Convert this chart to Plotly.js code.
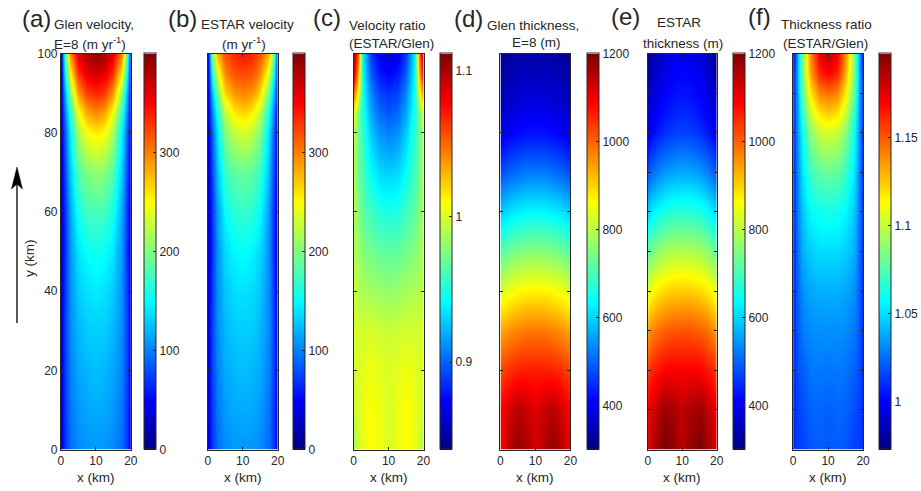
<!DOCTYPE html>
<html>
<head>
<meta charset="utf-8">
<script src="https://cdn.plot.ly/plotly-3.0.1.min.js"></script>
<style>html,body{margin:0;padding:0;background:#fff;}#chart{width:921px;height:491px;}</style>
</head>
<body>
<div id="chart"></div>
<script>
// ---------------- data ----------------
const xKm = [0, 1, 2.5, 5, 7.5, 10, 12.5, 15, 17.5, 19, 20];
const yKm = [0, 10, 20, 30, 40, 50, 60, 70, 80, 85, 90, 95, 100];

// (a) Glen velocity, E=8 (m/yr)
const glenVelocity = [
  [40, 70, 92, 104, 108, 110, 108, 104, 92, 70, 40],
  [40, 72, 96, 110, 116, 118, 116, 110, 96, 72, 40],
  [40, 74, 100, 116, 122, 125, 122, 116, 100, 74, 40],
  [40, 75, 104, 122, 130, 132, 130, 122, 104, 75, 40],
  [38, 72, 106, 130, 139, 142, 139, 130, 106, 72, 38],
  [35, 68, 108, 140, 152, 157, 152, 140, 108, 68, 35],
  [35, 70, 115, 158, 175, 180, 175, 158, 115, 70, 35],
  [35, 78, 128, 182, 200, 207, 200, 182, 128, 78, 35],
  [38, 88, 145, 215, 248, 258, 248, 215, 145, 88, 38],
  [40, 100, 165, 245, 285, 298, 285, 245, 165, 100, 40],
  [40, 120, 200, 290, 325, 335, 325, 290, 200, 120, 40],
  [40, 150, 250, 330, 360, 368, 360, 330, 250, 150, 40],
  [40, 180, 295, 360, 385, 395, 385, 360, 295, 180, 40]
];

// (b) ESTAR velocity (m/yr)
const estarVelocity = [
  [39, 70, 92, 105, 109, 110, 109, 105, 92, 70, 39],
  [40, 72, 96, 111, 117, 118, 117, 111, 96, 72, 40],
  [40, 74, 100, 117, 122, 125, 122, 117, 100, 74, 40],
  [40, 75, 104, 122, 130, 131, 130, 122, 104, 75, 40],
  [38, 71, 105, 128, 137, 139, 137, 128, 105, 71, 38],
  [35, 67, 106, 136, 147, 152, 147, 136, 106, 67, 35],
  [35, 68, 111, 151, 166, 171, 166, 151, 111, 68, 35],
  [35, 76, 123, 172, 186, 192, 186, 172, 123, 76, 35],
  [38, 86, 138, 200, 226, 234, 226, 200, 138, 86, 38],
  [40, 98, 157, 225, 257, 267, 257, 225, 157, 98, 40],
  [42, 121, 190, 265, 291, 298, 291, 265, 190, 121, 42],
  [44, 156, 236, 297, 318, 322, 318, 297, 236, 156, 44],
  [44, 191, 277, 320, 336, 342, 336, 320, 277, 191, 44]
];

// (c) Velocity ratio (ESTAR/Glen)
const velocityRatio = [
  [0.985, 0.995, 1.005, 1.010, 1.005, 1.000, 1.005, 1.010, 1.005, 0.995, 0.985],
  [0.995, 1.000, 1.005, 1.010, 1.005, 1.000, 1.005, 1.010, 1.005, 1.000, 0.995],
  [1.000, 1.000, 1.003, 1.006, 1.003, 1.000, 1.003, 1.006, 1.003, 1.000, 1.000],
  [1.000, 0.998, 0.998, 0.999, 0.997, 0.995, 0.997, 0.999, 0.998, 0.998, 1.000],
  [0.995, 0.990, 0.988, 0.986, 0.983, 0.981, 0.983, 0.986, 0.988, 0.990, 0.995],
  [0.990, 0.984, 0.978, 0.972, 0.968, 0.966, 0.968, 0.972, 0.978, 0.984, 0.990],
  [0.990, 0.978, 0.967, 0.958, 0.951, 0.948, 0.951, 0.958, 0.967, 0.978, 0.990],
  [0.990, 0.972, 0.960, 0.943, 0.932, 0.929, 0.932, 0.943, 0.960, 0.972, 0.990],
  [0.995, 0.972, 0.955, 0.928, 0.913, 0.908, 0.913, 0.928, 0.955, 0.972, 0.995],
  [1.010, 0.975, 0.950, 0.918, 0.902, 0.897, 0.902, 0.918, 0.950, 0.975, 1.010],
  [1.050, 1.010, 0.948, 0.910, 0.892, 0.887, 0.892, 0.910, 0.948, 1.010, 1.050],
  [1.090, 1.040, 0.943, 0.898, 0.880, 0.874, 0.880, 0.898, 0.943, 1.040, 1.090],
  [1.100, 1.060, 0.940, 0.888, 0.870, 0.864, 0.870, 0.888, 0.940, 1.060, 1.100]
];

// (d) Glen thickness, E=8 (m)
const glenThickness = [
  [1095, 1120, 1155, 1185, 1160, 1125, 1160, 1185, 1155, 1120, 1095],
  [1085, 1100, 1125, 1150, 1135, 1115, 1135, 1150, 1125, 1100, 1085],
  [1025, 1035, 1047, 1060, 1063, 1063, 1063, 1060, 1047, 1035, 1025],
  [938, 948, 960, 973, 980, 983, 980, 973, 960, 948, 938],
  [828, 838, 850, 864, 871, 874, 871, 864, 850, 838, 828],
  [712, 722, 734, 748, 755, 758, 755, 748, 734, 722, 712],
  [590, 600, 612, 625, 633, 635, 633, 625, 612, 600, 590],
  [480, 490, 500, 512, 519, 521, 519, 512, 500, 490, 480],
  [390, 398, 408, 418, 424, 426, 424, 418, 408, 398, 390],
  [365, 372, 381, 391, 396, 398, 396, 391, 381, 372, 365],
  [345, 352, 360, 368, 372, 374, 372, 368, 360, 352, 345],
  [330, 335, 342, 350, 354, 355, 354, 350, 342, 335, 330],
  [315, 320, 325, 330, 333, 335, 333, 330, 325, 320, 315]
];

// (e) ESTAR thickness (m)
const estarThickness = [
  [1106, 1137, 1172, 1205, 1186, 1148, 1186, 1205, 1172, 1137, 1106],
  [1096, 1117, 1145, 1176, 1162, 1140, 1162, 1176, 1145, 1117, 1096],
  [1035, 1054, 1070, 1089, 1093, 1092, 1093, 1089, 1070, 1054, 1035],
  [947, 967, 987, 1004, 1012, 1015, 1012, 1004, 987, 967, 947],
  [836, 856, 878, 897, 906, 909, 906, 897, 878, 856, 836],
  [719, 740, 763, 783, 793, 796, 793, 783, 763, 740, 719],
  [596, 617, 640, 661, 672, 674, 672, 661, 640, 617, 596],
  [485, 505, 526, 548, 559, 563, 559, 548, 526, 505, 485],
  [394, 411, 432, 454, 466, 471, 466, 454, 432, 411, 394],
  [369, 385, 406, 428, 442, 448, 442, 428, 406, 385, 369],
  [348, 364, 388, 411, 424, 428, 424, 411, 388, 364, 348],
  [332, 348, 370, 396, 411, 415, 411, 396, 370, 348, 332],
  [315, 331, 351, 376, 390, 397, 390, 376, 351, 331, 315]
];

// (f) Thickness ratio (ESTAR/Glen)
const thicknessRatio = [
  [1.010, 1.015, 1.015, 1.020, 1.022, 1.020, 1.022, 1.020, 1.015, 1.015, 1.010],
  [1.010, 1.015, 1.018, 1.023, 1.024, 1.022, 1.024, 1.023, 1.018, 1.015, 1.010],
  [1.010, 1.018, 1.022, 1.027, 1.028, 1.027, 1.028, 1.027, 1.022, 1.018, 1.010],
  [1.010, 1.020, 1.028, 1.032, 1.033, 1.033, 1.033, 1.032, 1.028, 1.020, 1.010],
  [1.010, 1.022, 1.033, 1.038, 1.040, 1.040, 1.040, 1.038, 1.033, 1.022, 1.010],
  [1.010, 1.025, 1.040, 1.047, 1.050, 1.050, 1.050, 1.047, 1.040, 1.025, 1.010],
  [1.010, 1.028, 1.045, 1.057, 1.061, 1.062, 1.061, 1.057, 1.045, 1.028, 1.010],
  [1.010, 1.030, 1.052, 1.070, 1.078, 1.080, 1.078, 1.070, 1.052, 1.030, 1.010],
  [1.010, 1.033, 1.060, 1.088, 1.101, 1.105, 1.101, 1.088, 1.060, 1.033, 1.010],
  [1.010, 1.035, 1.068, 1.103, 1.120, 1.125, 1.120, 1.103, 1.068, 1.035, 1.010],
  [1.010, 1.037, 1.078, 1.118, 1.140, 1.145, 1.140, 1.118, 1.078, 1.037, 1.010],
  [1.005, 1.040, 1.083, 1.133, 1.162, 1.170, 1.162, 1.133, 1.083, 1.040, 1.005],
  [1.000, 1.038, 1.085, 1.140, 1.172, 1.185, 1.172, 1.140, 1.085, 1.038, 1.000]
];

const xTicks = [0, 10, 20];
const yTicksLabelled = [0, 20, 40, 60, 80, 100];
const yTicksFine = [0, 10, 20, 30, 40, 50, 60, 70, 80, 90, 100];
const velTicks = [0, 100, 200, 300];
const velRatioTicks = [0.9, 1, 1.1];
const velRatioLabels = ['0.9', '1', '1.1'];
const thickTicks = [400, 600, 800, 1000, 1200];
const thickRatioTicks = [1, 1.05, 1.1, 1.15];
const thickRatioLabels = ['1', '1.05', '1.1', '1.15'];

const panelLetters = ['(a)', '(b)', '(c)', '(d)', '(e)', '(f)'];
const titleLine1 = ['Glen velocity,', 'ESTAR velocity', 'Velocity ratio', 'Glen thickness,', 'ESTAR', 'Thickness ratio'];
const titleLine2 = ['E=8 (m yr<sup>-1</sup>)', '(m yr<sup>-1</sup>)', '(ESTAR/Glen)', 'E=8 (m)', 'thickness (m)', '(ESTAR/Glen)'];

// ---------------- layout helpers ----------------
const W = 921, H = 491;
const px = v => v / W;
const py = v => 1 - v / H;
const TXT = '#262626';
const FONT = 'Liberation Sans, Arial, Helvetica, sans-serif';

const jet = [
  [0, 'rgb(0,0,128)'], [0.125, 'rgb(0,0,255)'], [0.375, 'rgb(0,255,255)'],
  [0.625, 'rgb(255,255,0)'], [0.875, 'rgb(255,0,0)'], [1, 'rgb(128,0,0)']
];

const plotTop = 53.5, plotBot = 449.5;
const panels = [
  {z: glenVelocity,   x0: 61,    x1: 131,   cb: 143.5, zmin: 0,     zmax: 400,   tv: velTicks,        tt: null,             yt: yTicksLabelled},
  {z: estarVelocity,  x0: 208,   x1: 278,   cb: 293,   zmin: 0,     zmax: 400,   tv: velTicks,        tt: null,             yt: yTicksLabelled},
  {z: velocityRatio,  x0: 354,   x1: 424,   cb: 439.5, zmin: 0.84,  zmax: 1.112, tv: velRatioTicks,   tt: velRatioLabels,   yt: yTicksLabelled},
  {z: glenThickness,  x0: 501,   x1: 571,   cb: 587,   zmin: 300,   zmax: 1200,  tv: thickTicks,      tt: null,             yt: yTicksLabelled},
  {z: estarThickness, x0: 648.5, x1: 717.5, cb: 732.5, zmin: 300,   zmax: 1200,  tv: thickTicks,      tt: null,             yt: yTicksFine},
  {z: thicknessRatio, x0: 794,   x1: 864,   cb: 878.5, zmin: 0.973, zmax: 1.198, tv: thickRatioTicks, tt: thickRatioLabels, yt: yTicksFine}
];
const letterPos = [[37, 19], [183, 19], [327.5, 17.5], [469, 18], [626, 17], [760.5, 17]];
const t1Pos = [[94, 24], [247.5, 24], [388, 25], [534, 25], [679.5, 23], [827.5, 24]];
const t2Pos = [[90, 43], [244.5, 43], [392, 44], [537, 43], [683.5, 44], [826, 44]];

const data = [];
const layout = {
  width: W, height: H,
  margin: {l: 0, r: 0, t: 0, b: 0},
  paper_bgcolor: '#fff', plot_bgcolor: '#fff',
  font: {family: FONT, color: TXT, size: 12},
  showlegend: false,
  annotations: [], shapes: []
};

panels.forEach((p, i) => {
  const n = i + 1;
  const xa = 'x' + (n === 1 ? '' : n), ya = 'y' + (n === 1 ? '' : n);
  const cbar = {
    x: px(p.cb), xanchor: 'left', xref: 'paper', xpad: 0,
    y: py((plotTop + plotBot) / 2), yanchor: 'middle', ypad: 0,
    len: plotBot - plotTop, lenmode: 'pixels',
    thickness: 12, thicknessmode: 'pixels',
    outlinewidth: 1, outlinecolor: TXT,
    ticks: 'inside', ticklen: 3, tickcolor: TXT, tickwidth: 1,
    tickvals: p.tv, tickfont: {size: 12, color: TXT, family: FONT}
  };
  if (p.tt) cbar.ticktext = p.tt;
  data.push({
    type: 'heatmap', x: xKm, y: yKm, z: p.z,
    xaxis: xa, yaxis: ya,
    colorscale: jet, zmin: p.zmin, zmax: p.zmax, zsmooth: 'best',
    colorbar: cbar, showscale: true, hoverinfo: 'skip'
  });
  const axBase = {
    ticks: 'inside', ticklen: 3, tickcolor: TXT, tickwidth: 1,
    showline: true, linecolor: TXT, linewidth: 1, mirror: 'ticks',
    showgrid: false, zeroline: false, fixedrange: true,
    tickfont: {size: 12, color: TXT, family: FONT}
  };
  layout['xaxis' + (n === 1 ? '' : n)] = Object.assign({}, axBase, {
    domain: [px(p.x0), px(p.x1)], anchor: ya, range: [0, 20], tickvals: xTicks
  });
  layout['yaxis' + (n === 1 ? '' : n)] = Object.assign({}, axBase, {
    domain: [py(plotBot), py(plotTop)], anchor: xa, range: [0, 100], tickvals: p.yt,
    showticklabels: n === 1
  });
  const ann = (text, x, y, size, extra) => layout.annotations.push(Object.assign({
    text: text, x: px(x), y: py(y), xref: 'paper', yref: 'paper',
    xanchor: 'center', yanchor: 'middle', showarrow: false,
    font: {size: size, color: TXT, family: FONT}
  }, extra || {}));
  ann(panelLetters[i], letterPos[i][0], letterPos[i][1], 24);
  ann(titleLine1[i], t1Pos[i][0], t1Pos[i][1], 13.5);
  ann(titleLine2[i], t2Pos[i][0], t2Pos[i][1], 13.5);
  ann('x (km)', (p.x0 + p.x1) / 2, 477, 13.5);
});

// y-axis label and flow arrow (panel a)
layout.annotations.push({
  text: 'y (km)', x: px(29), y: py(258), xref: 'paper', yref: 'paper',
  xanchor: 'center', yanchor: 'middle', showarrow: false, textangle: -90,
  font: {size: 13.5, color: TXT, family: FONT}
});
layout.shapes.push({
  type: 'line', xref: 'paper', yref: 'paper',
  x0: px(17), x1: px(17), y0: py(323), y1: py(184),
  line: {color: '#000', width: 1.3}
});
layout.shapes.push({
  type: 'path', xref: 'paper', yref: 'paper',
  path: `M ${px(17)} ${py(167)} L ${px(11.5)} ${py(189)} L ${px(17)} ${py(184)} L ${px(22.5)} ${py(189)} Z`,
  fillcolor: '#000', line: {color: '#000', width: 0.5}
});

Plotly.newPlot('chart', data, layout, {displayModeBar: false, staticPlot: true});
</script>
</body>
</html>
